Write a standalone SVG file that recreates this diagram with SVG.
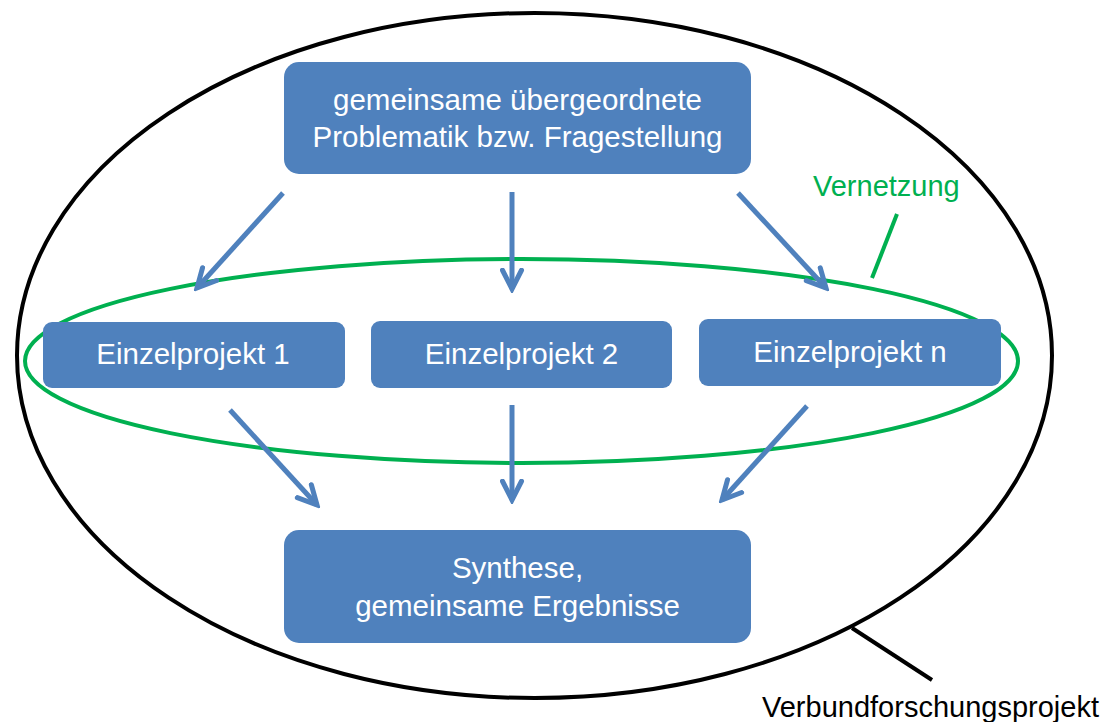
<svg xmlns="http://www.w3.org/2000/svg" width="1113" height="722" viewBox="0 0 1113 722">
  <style>
    .box { fill: #4F81BD; }
    .lbl { font-family: "Liberation Sans", Arial, sans-serif; font-size: 29.5px; fill: #FFFFFF; text-anchor: middle; }
    .note { font-family: "Liberation Sans", Arial, sans-serif; font-size: 29px; }
    .arrow { stroke: #4F81BD; stroke-width: 5; fill: none; marker-end: url(#head); }
  </style>
  <defs>
    <marker id="head" viewBox="0 0 10 10" refX="8.5" refY="5" markerWidth="5" markerHeight="5" markerUnits="strokeWidth" orient="auto">
      <path d="M1,1.2 L8.5,5 L1,8.8" fill="none" stroke="#4F81BD" stroke-width="2" stroke-linecap="round" stroke-linejoin="miter"/>
    </marker>
  </defs>
  <rect width="1113" height="722" fill="#FFFFFF"/>

  <!-- outer project boundary -->
  <g id="verbund">
    <ellipse cx="534.5" cy="355.5" rx="517.5" ry="342.5" fill="none" stroke="#000000" stroke-width="4"/>
    <line x1="852" y1="628" x2="932" y2="680" stroke="#000000" stroke-width="4"/>
    <text class="note" x="762" y="717" fill="#000000">Verbundforschungsprojekt</text>
  </g>

  <!-- networking ring around the sub-projects -->
  <g id="vernetzung">
    <ellipse cx="521.5" cy="361" rx="496.5" ry="102" fill="none" stroke="#00B050" stroke-width="4"/>
    <line x1="897" y1="214" x2="872" y2="278" stroke="#00B050" stroke-width="4"/>
    <text class="note" x="813" y="196" fill="#00B050" font-size="30">Vernetzung</text>
  </g>

  <g id="problem">
    <rect class="box" x="284" y="62" width="467" height="112" rx="15"/>
    <text class="lbl" x="517.5" y="110">gemeinsame übergeordnete</text>
    <text class="lbl" x="517.5" y="147">Problematik bzw. Fragestellung</text>
  </g>

  <g id="projekt1">
    <rect class="box" x="43" y="322" width="302" height="66" rx="9"/>
    <text class="lbl" x="193" y="364">Einzelprojekt 1</text>
  </g>

  <g id="projekt2">
    <rect class="box" x="371" y="321" width="301" height="67" rx="9"/>
    <text class="lbl" x="521.5" y="364">Einzelprojekt 2</text>
  </g>

  <g id="projektn">
    <rect class="box" x="699" y="319" width="302" height="67" rx="9"/>
    <text class="lbl" x="850" y="362">Einzelprojekt n</text>
  </g>

  <g id="synthese">
    <rect class="box" x="284" y="530" width="467" height="113" rx="15"/>
    <text class="lbl" x="517.5" y="578">Synthese,</text>
    <text class="lbl" x="517.5" y="616">gemeinsame Ergebnisse</text>
  </g>

  <g id="connectors">
    <line class="arrow" x1="283" y1="193" x2="197" y2="288"/>
    <line class="arrow" x1="512" y1="192" x2="512" y2="289"/>
    <line class="arrow" x1="738" y1="193" x2="826" y2="288"/>
    <line class="arrow" x1="230" y1="410" x2="317" y2="505"/>
    <line class="arrow" x1="512" y1="405" x2="512" y2="500"/>
    <line class="arrow" x1="807" y1="406" x2="722" y2="500"/>
  </g>
</svg>
